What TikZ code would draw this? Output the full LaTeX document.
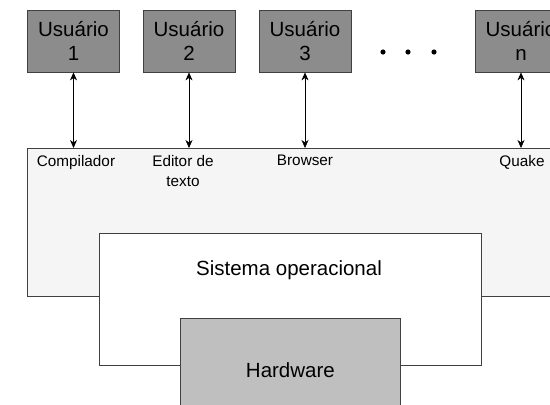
\documentclass[tikz,border=0pt]{standalone}
\usepackage{fontspec}
\setmainfont{Liberation Sans}
\usetikzlibrary{arrows.meta}

\tikzset{
	usuario/.style={draw=black!75, fill=black!45, line width=0.8pt, minimum width=92pt, minimum height=62pt, align=center, font=\fontsize{20.5}{24}\selectfont},
	camada/.style={draw=black!75, line width=0.8pt, anchor=north west},
	big/.style={font=\fontsize{20.5}{24}\selectfont},
	small/.style={font=\fontsize{15.3}{20}\selectfont, align=center, anchor=north, inner sep=0pt},
	seta/.style={{Stealth[length=8pt,width=7pt,inset=2.5pt]}-{Stealth[length=8pt,width=7pt,inset=2.5pt]}, line width=0.7pt}
}

\begin{document}
\begin{tikzpicture}[x=1pt, y=-1pt]
		\useasboundingbox (0,0) rectangle (550,405);
		\clip (0,0) rectangle (550,405);
		% camadas
		\node[camada, fill=black!4, minimum width=545pt, minimum height=148pt] (apps) at (27,148) {};
		\node[camada, fill=white, minimum width=382pt, minimum height=132pt] (so) at (99,233) {};
		\node[camada, fill=black!25, minimum width=220pt, minimum height=104pt] (hw) at (180,318) {};
		\node[big] (sotxt) at (289,270) {Sistema operacional};
		\node[big] (hwtxt) at (hw) {Hardware};
		% usuarios
		\node[usuario] (u1) at (73.5,41) {Usu\'ario\\1};
		\node[usuario] (u2) at (189,41) {Usu\'ario\\2};
		\node[usuario] (u3) at (305,41) {Usu\'ario\\3};
		\node[usuario] (un) at (521,41) {Usu\'ario\\n};
		\foreach \i/\x in {1/383,2/408,3/434}
			\fill (\x,52) circle (2.6pt);
		% aplicativos
		\node[small] (comp) at (76,155) {Compilador};
		\node[small] (edit) at (183,155) {Editor de\\texto};
		\node[small] (brow) at (305,155) {Browser};
		\node[small] (quak) at (522,155) {Quake};
		\draw[seta] (u1.south) -- (u1.south |- apps.north);
		\draw[seta] (u2.south) -- (u2.south |- apps.north);
		\draw[seta] (u3.south) -- (u3.south |- apps.north);
		\draw[seta] (un.south) -- (un.south |- apps.north);
	\end{tikzpicture}
\end{document}
